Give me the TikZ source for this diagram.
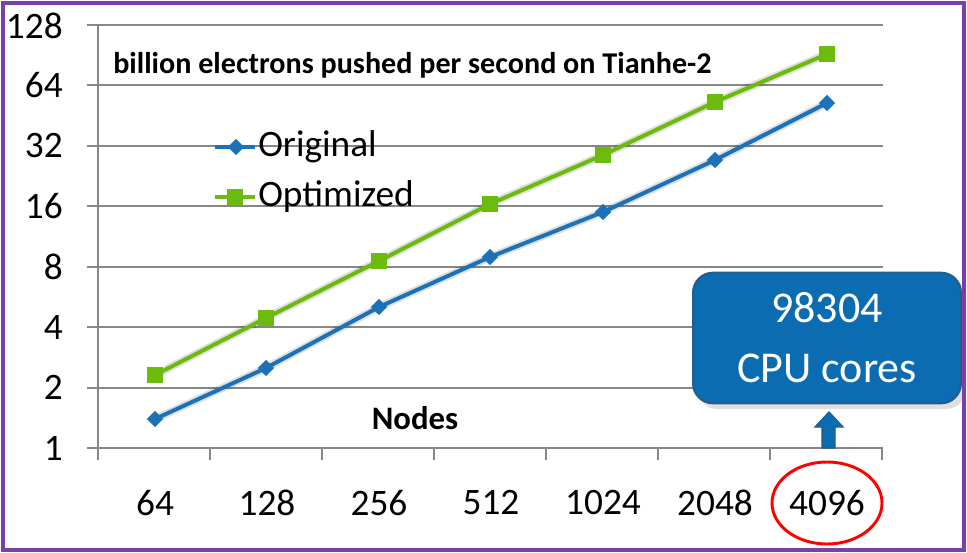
\documentclass[tikz,border=0pt]{standalone}
\usepackage{fontspec}
\setmainfont{Carlito}
\usetikzlibrary{shapes.geometric}
\definecolor{origblue}{HTML}{1B72B8}
\definecolor{optgreen}{HTML}{6CBB0C}
\definecolor{gridgray}{HTML}{878787}
\definecolor{framepurple}{HTML}{7B3FA8}
\definecolor{calloutfill}{HTML}{0B6CB2}
\definecolor{calloutedge}{HTML}{245C8C}
\tikzset{
  gridline/.style={draw=gridgray,line width=1.5pt},
  axislabel/.style={inner sep=0pt,font=\fontsize{28}{30}\selectfont},
  legendlabel/.style={inner sep=0pt,anchor=west,font=\fontsize{28}{30}\selectfont},
  origline/.style={draw=origblue,line width=3pt},
  optline/.style={draw=optgreen,line width=3pt},
  softshadow/.style={draw=black,draw opacity=0.12,line width=6pt,shift={(3,4)}},
  bmark/.style={diamond,fill=origblue,inner sep=0pt,minimum width=12.5pt,minimum height=12.5pt},
  gmark/.style={rectangle,fill=optgreen,inner sep=0pt,minimum width=12.5pt,minimum height=12.5pt},
  callout/.style={rectangle,rounded corners=15pt,fill=calloutfill,draw=calloutedge,line width=1.5pt,
    text=white,align=center,minimum width=201pt,minimum height=98pt,inner sep=0pt,
    font=\fontsize{33}{45}\selectfont},
}
\begin{document}
\begin{tikzpicture}[x=0.75pt,y=-0.75pt]
\useasboundingbox (0,0) rectangle (967,553);
\fill[white] (0,0) rectangle (967,553);
% grid
\foreach \k in {0,...,7} {
  \draw[gridline] (87,{448-60.43*\k}) -- (883,{448-60.43*\k});
}
\draw[gridline] (98,25) -- (98,460);
\foreach \k in {1,...,7} {
  \draw[gridline] ({98+112*\k},448) -- ({98+112*\k},460);
}
% y labels
\node[axislabel,anchor=east] (y1) at (63,448) {1};
\node[axislabel,anchor=east] (y2) at (63,387.6) {2};
\node[axislabel,anchor=east] (y4) at (63,327.1) {4};
\node[axislabel,anchor=east] (y8) at (63,266.7) {8};
\node[axislabel,anchor=east] (y16) at (63,206.3) {16};
\node[axislabel,anchor=east] (y32) at (63,145.9) {32};
\node[axislabel,anchor=east] (y64) at (63,85.4) {64};
\node[axislabel,anchor=east] (y128) at (63,26) {128};
% x labels
\node[axislabel] (x64) at (155,503) {64};
\node[axislabel] (x128) at (267,503) {128};
\node[axislabel] (x256) at (379,503) {256};
\node[axislabel] (x512) at (491,503) {512};
\node[axislabel] (x1024) at (603,503) {1024};
\node[axislabel] (x2048) at (715,503) {2048};
\node[axislabel] (x4096) at (827,503) {4096};
% title and axis name
\node[inner sep=0pt,anchor=west,font=\bfseries\fontsize{22.6}{26}\selectfont] (title) at (113,65) {billion electrons pushed per second on Tianhe-2};
\node[inner sep=0pt,font=\bfseries\fontsize{24.6}{28}\selectfont] (nodes) at (415,418) {Nodes};
% data coordinates
\coordinate (o1) at (155,419);
\coordinate (o2) at (266,368);
\coordinate (o3) at (379,307);
\coordinate (o4) at (490,257);
\coordinate (o5) at (603,212);
\coordinate (o6) at (715,160);
\coordinate (o7) at (827,103);
\coordinate (g1) at (155,375);
\coordinate (g2) at (266,318);
\coordinate (g3) at (379,261);
\coordinate (g4) at (490,204);
\coordinate (g5) at (603,155);
\coordinate (g6) at (715,102);
\coordinate (g7) at (827,54);
\draw[softshadow] (o1) -- (o2) -- (o3) -- (o4) -- (o5) -- (o6) -- (o7);
\draw[softshadow] (g1) -- (g2) -- (g3) -- (g4) -- (g5) -- (g6) -- (g7);
\draw[origline] (o1) -- (o2) -- (o3) -- (o4) -- (o5) -- (o6) -- (o7);
\draw[optline] (g1) -- (g2) -- (g3) -- (g4) -- (g5) -- (g6) -- (g7);
\foreach \i in {1,...,7} {
  \node[bmark] (om\i) at (o\i) {};
  \node[gmark] (gm\i) at (g\i) {};
}
% legend
\coordinate (lo1) at (215,147);
\coordinate (lo2) at (255,147);
\coordinate (lg1) at (215,197);
\coordinate (lg2) at (255,197);
\draw[origline] (lo1) -- (lo2);
\draw[optline] (lg1) -- (lg2);
\node[bmark] (lom) at (236,147) {};
\node[gmark] (lgm) at (235,197) {};
\node[legendlabel] (lorig) at (258,147) {Original};
\node[legendlabel] (lopt) at (258,197) {Optimized};
% callout
\fill[black,opacity=0.12,rounded corners=15pt] (697,277) rectangle (966,409);
\node[callout] (cores) at (827,338) {98304\\CPU cores};
\fill[calloutfill,draw=calloutedge,line width=1pt]
  (822,448) -- (822,427) -- (815,427) -- (829,412) -- (843,427) -- (835,427) -- (835,448) -- cycle;
\draw[red,line width=2.2pt] (x4096) ellipse [x radius=55,y radius=41];
% frame
\draw[framepurple,line width=2.5pt] (3,3) rectangle (964,550);
\end{tikzpicture}
\end{document}
